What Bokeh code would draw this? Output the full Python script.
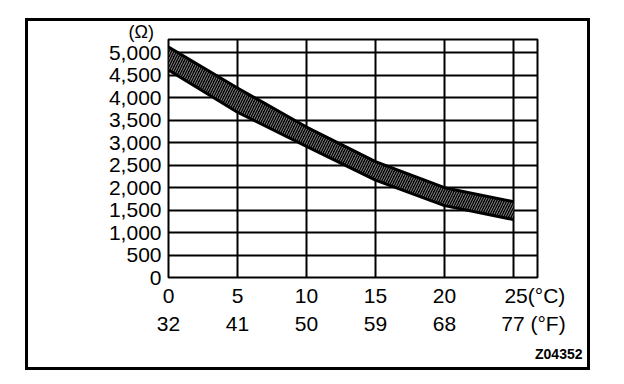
from bokeh.plotting import figure
from bokeh.models import (Range1d, FixedTicker, NumeralTickFormatter, LinearAxis,
                          Title, ColumnDataSource)
from bokeh.embed import file_html
from bokeh.resources import INLINE

# data
temp_c = [0, 5, 10, 15, 20, 25]
temp_c_labels = ["0", "5", "10", "15", "20", "25(°C)"]
temp_f_labels = ["32", "41", "50", "59", "68", "77 (°F)"]
res_upper = [5130, 4220, 3350, 2580, 2000, 1690]
res_lower = [4620, 3680, 2920, 2170, 1600, 1290]
y_ticks = list(range(0, 5001, 500))
y_top = 5300
y_unit = "(Ω)"
code = "Z04352"

FONT = "Liberation Sans"
FS = "21px"

# the unit suffix makes the last label wider; shift its anchor so "25"/"77" stay above 25
shift_c, shift_f = 1.55, 1.45
c_pos = temp_c[:-1] + [temp_c[-1] + shift_c]
f_pos = temp_c[:-1] + [temp_c[-1] + shift_f]

p = figure(width=559, height=346, output_backend="svg", toolbar_location=None,
           x_range=Range1d(0, 26.74), y_range=Range1d(0, y_top),
           min_border_left=140, min_border_right=50, min_border_top=18,
           min_border_bottom=89, x_axis_location=None, y_axis_location="left")
p.styles = {"margin-left": "28px", "margin-top": "21px",
            "outline": "3px solid black", "outline-offset": "0px"}
p.background_fill_color = "white"
p.border_fill_color = "white"
p.outline_line_color = "black"
p.outline_line_width = 2
p.outline_line_alpha = 1

# unit label above the y axis
p.title.text = y_unit
p.title.align = "left"
p.title.offset = -40
p.title.standoff = -5
p.title.text_font = FONT
p.title.text_font_size = "18px"
p.title.text_font_style = "normal"
p.title.text_color = "black"
p.title.text_line_height = 0.8

# grid
p.xgrid.ticker = FixedTicker(ticks=temp_c)
p.ygrid.ticker = FixedTicker(ticks=y_ticks)
for g in (p.xgrid[0], p.ygrid[0]):
    g.grid_line_color = "black"
    g.grid_line_width = 2
    g.grid_line_alpha = 1

# y axis
ya = p.yaxis[0]
ya.ticker = FixedTicker(ticks=y_ticks)
ya.formatter = NumeralTickFormatter(format="0,0")
ya.axis_line_color = None
ya.major_tick_line_color = None
ya.minor_tick_line_color = None
ya.major_label_standoff = 1
ya.major_label_text_font = FONT
ya.major_label_text_font_size = FS
ya.major_label_text_color = "black"

# x axes (°C and °F rows)
xa1 = LinearAxis(ticker=FixedTicker(ticks=c_pos),
                 major_label_overrides={p_: t for p_, t in zip(c_pos, temp_c_labels)})
xa2 = LinearAxis(ticker=FixedTicker(ticks=f_pos),
                 major_label_overrides={p_: t for p_, t in zip(f_pos, temp_f_labels)})
for ax, standoff in ((xa1, 0), (xa2, -4)):
    ax.axis_line_color = None
    ax.major_tick_line_color = None
    ax.minor_tick_line_color = None
    ax.major_label_standoff = standoff
    ax.major_label_text_font = FONT
    ax.major_label_text_font_size = FS
    ax.major_label_text_color = "black"
p.add_layout(xa1, "below")
p.add_layout(xa2, "below")

# figure code, bottom right
p.add_layout(Title(text=code, align="right", offset=-45, text_font=FONT,
                   text_font_size="14px", text_font_style="bold",
                   text_color="black", standoff=12), "below")

# band
src = ColumnDataSource(dict(x=temp_c, lo=res_lower, hi=res_upper))
p.varea(x="x", y1="lo", y2="hi", source=src, fill_color="black",
        hatch_pattern="/", hatch_color="white", hatch_alpha=0.55,
        hatch_scale=5, hatch_weight=1)
p.line(x="x", y="hi", source=src, line_color="black", line_width=3)
p.line(x="x", y="lo", source=src, line_color="black", line_width=3)

open("out.html", "w").write(file_html(p, INLINE))
